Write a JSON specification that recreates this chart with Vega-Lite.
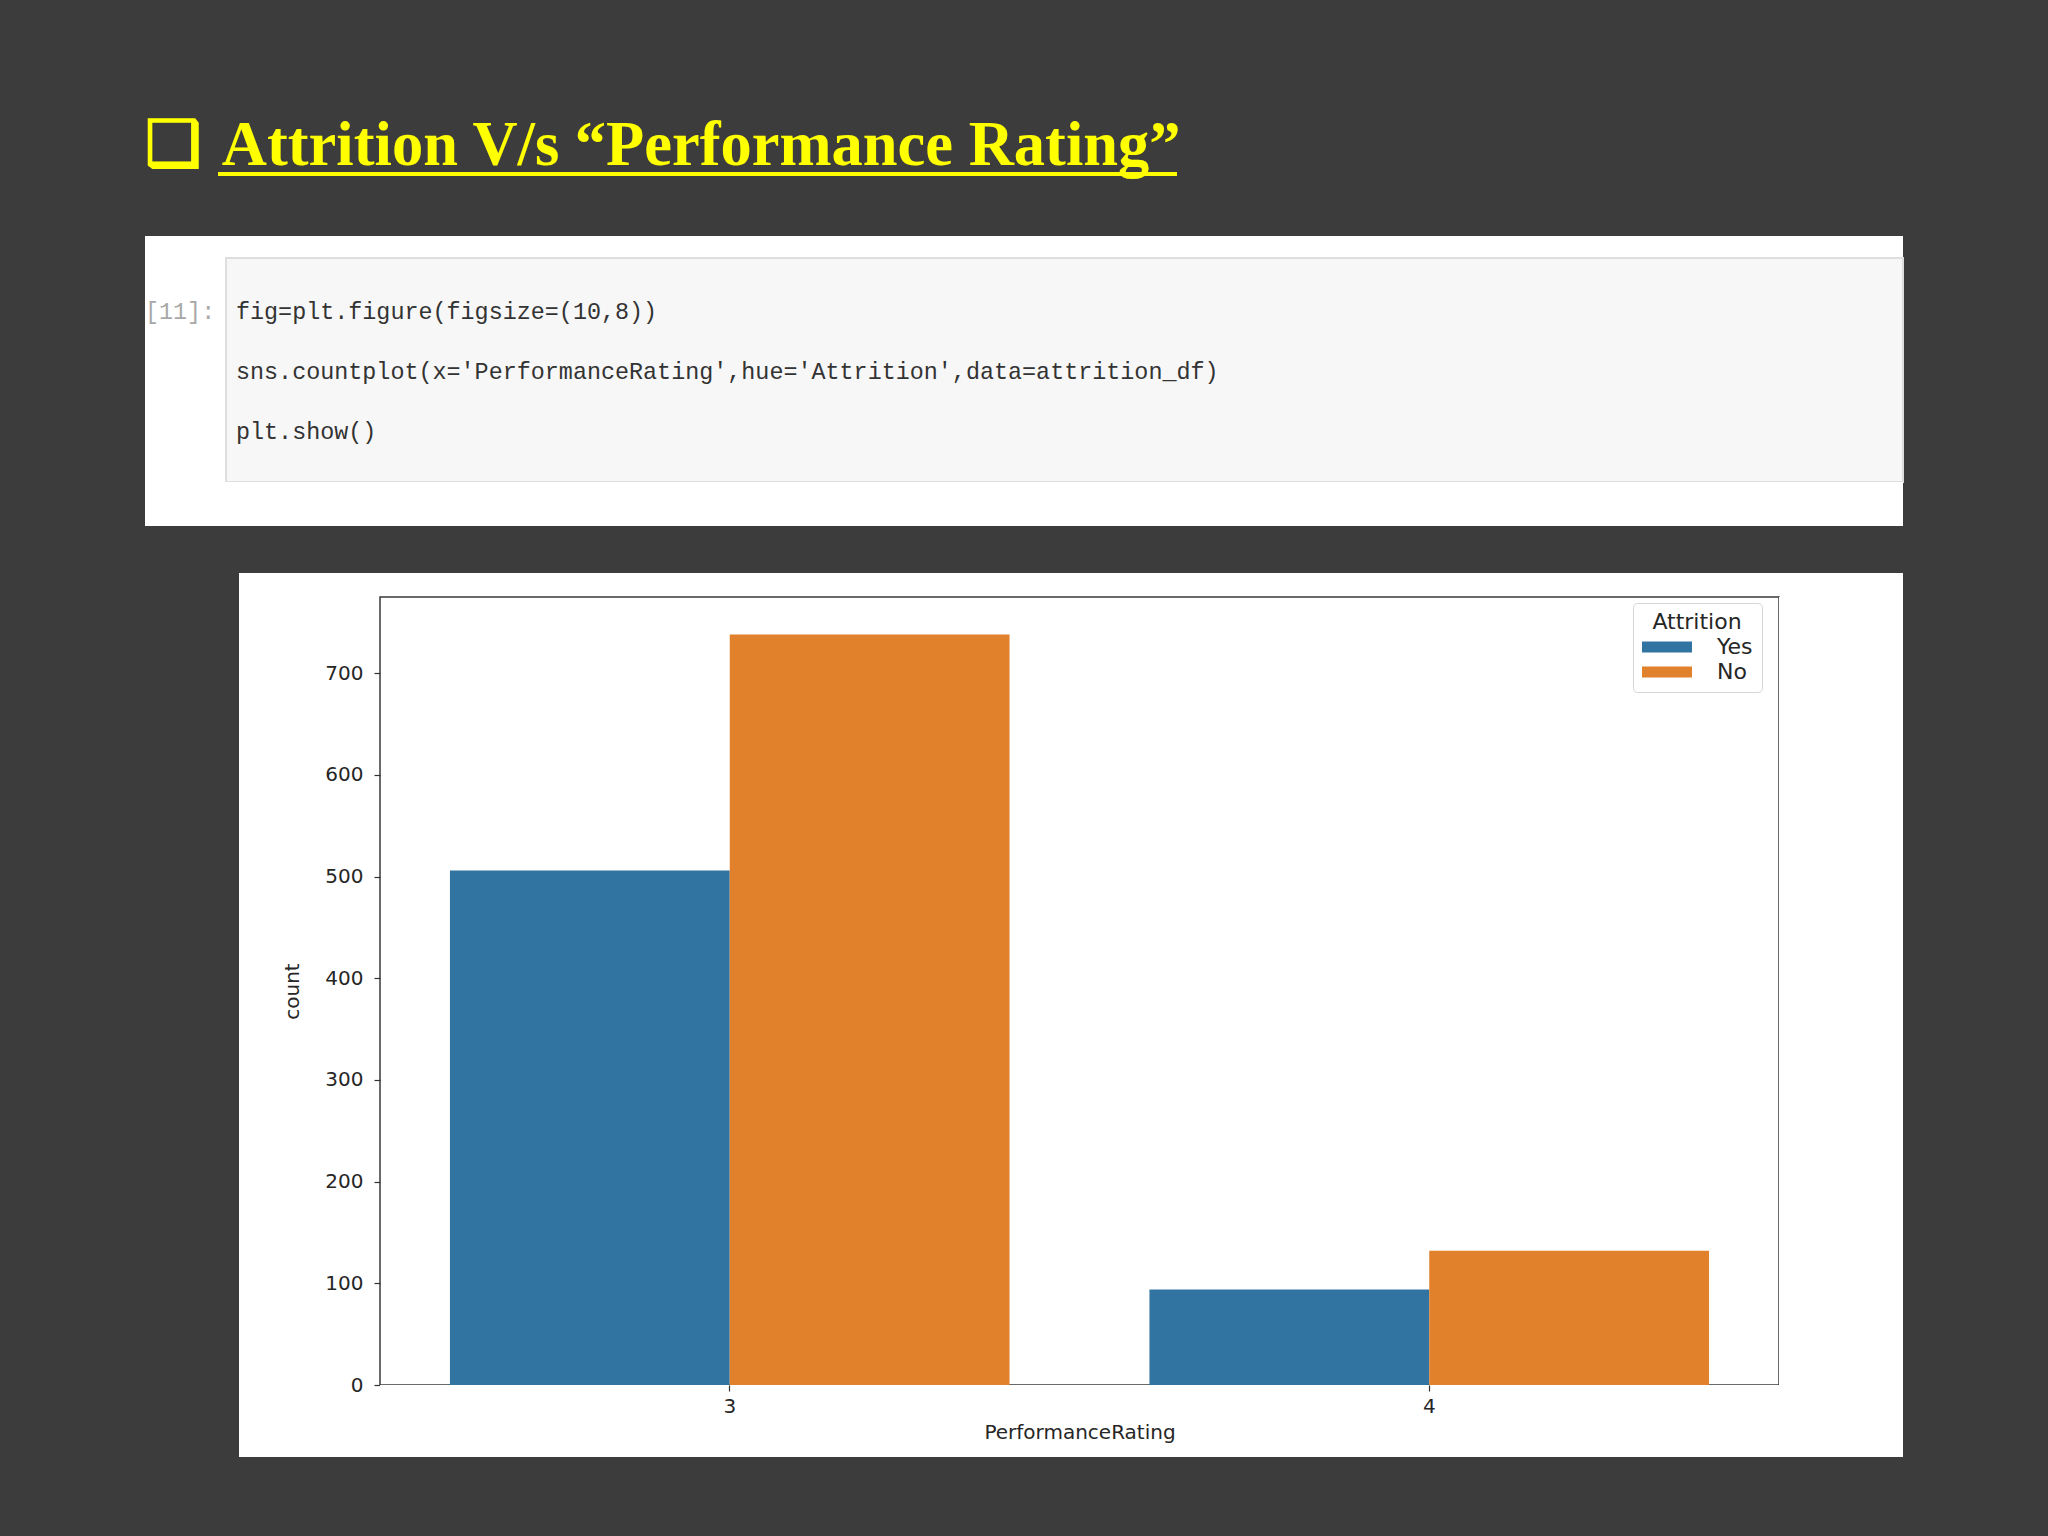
{
  "$schema": "https://vega.github.io/schema/vega-lite/v6.json",
  "background": "#3c3c3c",
  "autosize": {"type": "pad"},
  "padding": {"left": 145, "right": 145, "top": 114, "bottom": 80},
  "title": {
    "text": "❑ \u200aAttrition V/s “Performance Rating”",
    "anchor": "start",
    "frame": "group",
    "font": "Liberation Serif",
    "fontSize": 62.5,
    "fontWeight": "bold",
    "color": "#ffff00",
    "offset": -10
  },
  "data": {
    "values": [
      {"PerformanceRating": 3, "Attrition": "Yes", "count": 506},
      {"PerformanceRating": 3, "Attrition": "No", "count": 738},
      {"PerformanceRating": 4, "Attrition": "Yes", "count": 94},
      {"PerformanceRating": 4, "Attrition": "No", "count": 132}
    ]
  },
  "spacing": 47,
  "resolve": {"legend": {"color": "independent"}, "scale": {"x": "independent", "y": "independent", "color": "independent"}},
  "vconcat": [
    {
      "spacing": 0,
      "hconcat": [
        {"width": 73, "height": 17, "mark": {"type": "text", "text": ""}},
        {"width": 959, "height": 4, "view": {"fill": "#ffff00", "stroke": null}, "mark": {"type": "text", "text": ""}}
      ]
    },
    {
      "columns": 2,
      "spacing": 0,
      "bounds": "flush",
      "concat": [
        {"width": 81, "height": 22, "view": {"fill": "white", "stroke": null}, "mark": {"type": "text", "text": ""}},
        {"width": 1677, "height": 22, "view": {"fill": "white", "stroke": null}, "mark": {"type": "text", "text": ""}},
        {
          "width": 81, "height": 224,
          "view": {"fill": "white", "stroke": null},
          "title": {"text": "[11]:", "orient": "bottom", "anchor": "start", "frame": "group", "baseline": "top", "offset": -181, "font": "Liberation Mono", "fontSize": 23.4, "fontWeight": "normal", "color": "#a8a8a8"},
          "mark": {"type": "text", "text": ""}
        },
        {
          "width": 1677, "height": 224,
          "view": {"fill": "#f7f7f7", "stroke": "#dedede", "strokeWidth": 2},
          "title": {
            "text": ["fig=plt.figure(figsize=(10,8))", "sns.countplot(x='PerformanceRating',hue='Attrition',data=attrition_df)", "plt.show()"],
            "orient": "bottom", "anchor": "start", "frame": "group", "baseline": "top", "offset": -181, "dx": 10, "lineHeight": 60,
            "font": "Liberation Mono", "fontSize": 23.4, "fontWeight": "normal", "color": "#333333"
          },
          "mark": {"type": "text", "text": ""}
        },
        {"width": 81, "height": 44, "view": {"fill": "white", "stroke": null}, "mark": {"type": "text", "text": ""}},
        {"width": 1677, "height": 44, "view": {"fill": "white", "stroke": null}, "mark": {"type": "text", "text": ""}}
      ]
    },
    {
      "columns": 4,
      "spacing": 0,
      "bounds": "flush",
      "resolve": {"legend": {"color": "independent"}, "scale": {"x": "independent", "y": "independent", "color": "independent"}},
      "concat": [
        {"width": 94, "height": 24, "mark": {"type": "text", "text": ""}},
        {"width": 141, "height": 24, "view": {"fill": "white", "stroke": null}, "mark": {"type": "text", "text": ""}},
        {"width": 1399, "height": 24, "view": {"fill": "white", "stroke": null}, "mark": {"type": "text", "text": ""}},
        {"width": 124, "height": 24, "view": {"fill": "white", "stroke": null}, "mark": {"type": "text", "text": ""}},

        {"width": 94, "height": 788, "mark": {"type": "text", "text": ""}},
        {"width": 141, "height": 788, "view": {"fill": "white", "stroke": null}, "mark": {"type": "text", "text": ""}},
        {
          "width": 1399, "height": 788,
          "view": {"fill": "white", "stroke": "#3a3a3a", "strokeWidth": 1.5},
          "mark": {"type": "bar"},
          "encoding": {
            "x": {
              "field": "PerformanceRating", "type": "ordinal",
              "scale": {"type": "band", "domain": [3, 4], "paddingInner": 0.2, "paddingOuter": 0.1},
              "axis": null
            },
            "xOffset": {
              "field": "Attrition", "type": "nominal",
              "scale": {"domain": ["Yes", "No"], "paddingInner": 0, "paddingOuter": 0}
            },
            "y": {
              "field": "count", "type": "quantitative",
              "scale": {"domain": [0, 774.9], "nice": false},
              "axis": {
                "values": [100, 200, 300, 400, 500, 600, 700],
                "domain": false, "grid": false,
                "tickSize": 6, "tickColor": "#333333", "tickWidth": 1.2,
                "labelFont": "DejaVu Sans", "labelFontSize": 20, "labelColor": "#262626", "labelPadding": 11,
                "title": "count", "titleFont": "DejaVu Sans", "titleFontSize": 20, "titleFontWeight": "normal", "titleColor": "#262626", "titlePadding": 22
              }
            },
            "color": {
              "field": "Attrition", "type": "nominal",
              "scale": {"domain": ["Yes", "No"], "range": ["#3274a1", "#e1812c"]},
              "legend": {
                "orient": "none", "legendX": 1253, "legendY": 6,
                "title": "Attrition", "titleFont": "DejaVu Sans", "titleFontSize": 22, "titleFontWeight": "normal", "titleColor": "#262626", "titleAnchor": "middle", "titlePadding": 2,
                "labelFont": "DejaVu Sans", "labelFontSize": 22, "labelColor": "#262626", "labelOffset": 25,
                "symbolType": "M-1,-0.22L1,-0.22L1,0.22L-1,0.22Z", "symbolSize": 2500, "symbolStrokeWidth": 0, "symbolOpacity": 1,
                "clipHeight": 22, "rowPadding": 3,
                "fillColor": "white", "strokeColor": "#d6d6d6", "padding": 9, "cornerRadius": 4
              }
            }
          }
        },
        {"width": 124, "height": 788, "view": {"fill": "white", "stroke": null}, "mark": {"type": "text", "text": ""}},

        {"width": 94, "height": 72, "mark": {"type": "text", "text": ""}},
        {
          "width": 141, "height": 72,
          "view": {"fill": "white", "stroke": null},
          "data": {"values": []},
          "mark": {"type": "text", "text": ""},
          "encoding": {
            "y": {
              "field": "count", "type": "quantitative",
              "scale": {"domain": [-70.66, 0], "nice": false, "zero": false},
              "axis": {
                "orient": "left", "offset": -141,
                "values": [0],
                "domain": false, "grid": false,
                "tickSize": 6, "tickColor": "#333333", "tickWidth": 1.2,
                "labelFont": "DejaVu Sans", "labelFontSize": 20, "labelColor": "#262626", "labelPadding": 11,
                "title": null
              }
            }
          }
        },
        {
          "width": 1399, "height": 72,
          "view": {"fill": "white", "stroke": null},
          "mark": {"type": "text", "text": ""},
          "encoding": {
            "x": {
              "field": "PerformanceRating", "type": "ordinal",
              "scale": {"type": "band", "domain": [3, 4], "paddingInner": 0.2, "paddingOuter": 0.1},
              "axis": {
                "orient": "bottom", "offset": -72, "domain": false,
                "tickSize": 6, "tickColor": "#333333", "tickWidth": 1.2,
                "labelAngle": 0, "labelFont": "DejaVu Sans", "labelFontSize": 20, "labelColor": "#262626", "labelPadding": 5,
                "title": "PerformanceRating", "titleFont": "DejaVu Sans", "titleFontSize": 20, "titleFontWeight": "normal", "titleColor": "#262626", "titlePadding": 6
              }
            }
          }
        },
        {"width": 124, "height": 72, "view": {"fill": "white", "stroke": null}, "mark": {"type": "text", "text": ""}}
      ]
    }
  ],
  "config": {
    "view": {"stroke": null},
    "font": "DejaVu Sans"
  }
}
